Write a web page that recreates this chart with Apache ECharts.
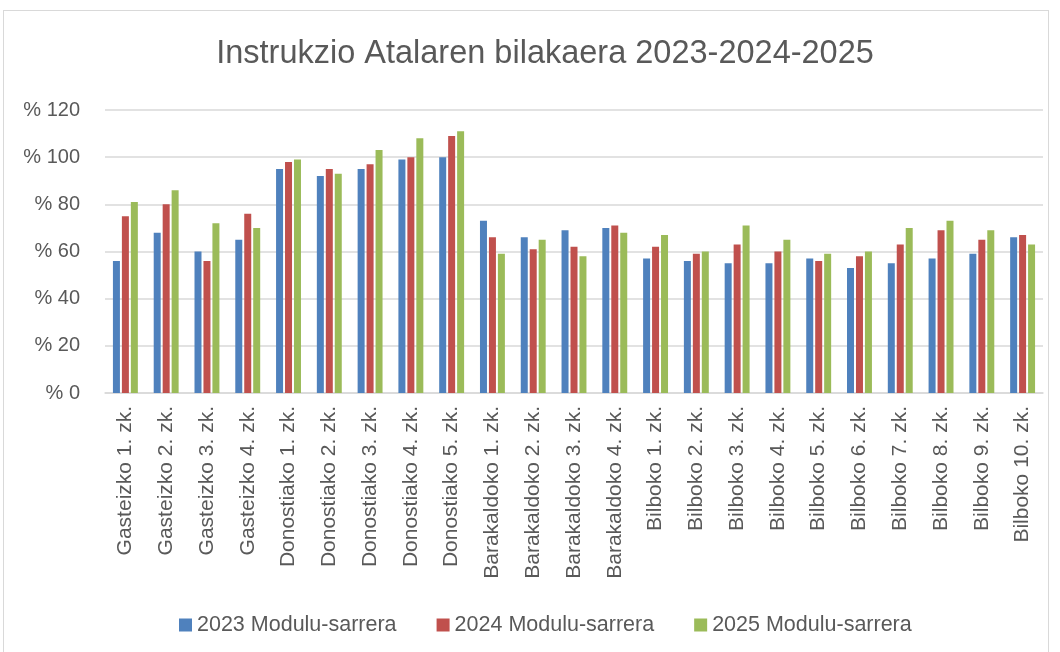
<!DOCTYPE html>
<html>
<head>
<meta charset="utf-8">
<script src="https://cdn.jsdelivr.net/npm/echarts@6/dist/echarts.min.js"></script>
<style>
    html, body { margin: 0; padding: 0; background: #fff; }
    #frame { position: absolute; left: 3px; top: 10px; width: 1046px; height: 650px; border: 1px solid #d9d9d9; box-sizing: border-box; }
    #main { position: absolute; left: 0; top: 0; width: 1060px; height: 652px; }
</style>
</head>
<body>
<div id="frame"></div>
<div id="main"></div>
<script>
// kategoriak (ikastegiak)
var categories = ['Gasteizko 1. zk.','Gasteizko 2. zk.','Gasteizko 3. zk.','Gasteizko 4. zk.',
    'Donostiako 1. zk.','Donostiako 2. zk.','Donostiako 3. zk.','Donostiako 4. zk.','Donostiako 5. zk.',
    'Barakaldoko 1. zk.','Barakaldoko 2. zk.','Barakaldoko 3. zk.','Barakaldoko 4. zk.',
    'Bilboko 1. zk.','Bilboko 2. zk.','Bilboko 3. zk.','Bilboko 4. zk.','Bilboko 5. zk.',
    'Bilboko 6. zk.','Bilboko 7. zk.','Bilboko 8. zk.','Bilboko 9. zk.','Bilboko 10. zk.'];
var seriesNames = ['2023 Modulu-sarrera','2024 Modulu-sarrera','2025 Modulu-sarrera'];
var values2023 = [56,68,60,65, 95,92,95,99,100, 73,66,69,70, 57,56,55,55,57,53,55,57,59,66];
var values2024 = [75,80,56,76, 98,95,97,100,109, 66,61,62,71, 62,59,63,60,56,58,63,69,65,67];
var values2025 = [81,86,72,70, 99,93,103,108,111, 59,65,58,68, 67,60,71,65,59,60,70,73,69,63];
var yTicks = [0,20,40,60,80,100,120];

var font = '"Liberation Sans", Arial, sans-serif';
var colors = ['#4F81BD','#C0504D','#9BBB59'];

var mchart = echarts.init(document.getElementById('main'));
var option = {
    animation: false,
    color: colors,
    title: {
        text: 'Instrukzio Atalaren bilakaera 2023-2024-2025',
        left: 540,
        textAlign: 'center',
        top: 33,
        textStyle: { fontFamily: font, fontSize: 32.5, fontWeight: 'normal', color: '#595959' }
    },
    legend: {
        top: 609,
        left: 174,
        itemWidth: 13,
        itemHeight: 13,
        itemGap: 40,
        icon: 'rect',
        textStyle: { fontFamily: font, fontSize: 21.5, color: '#595959' },
        data: seriesNames
    },
    grid: { left: 105, right: 17, top: 110, bottom: 259 },
    xAxis: {
        type: 'category',
        data: categories,
        axisLine: { lineStyle: { color: '#d9d9d9', width: 1.5 } },
        axisTick: { show: false },
        axisLabel: { rotate: 90, interval: 0, margin: 13, fontFamily: font, fontSize: 21, color: '#595959' }
    },
    yAxis: {
        type: 'value',
        min: yTicks[0],
        max: yTicks[yTicks.length - 1],
        interval: 20,
        axisLine: { show: false },
        axisTick: { show: false },
        splitLine: { lineStyle: { color: '#d9d9d9', width: 1.5 } },
        axisLabel: {
            margin: 25,
            fontFamily: font, fontSize: 20, color: '#595959',
            formatter: function (v) { return '% ' + v; }
        }
    },
    series: [
        { name: seriesNames[0], type: 'bar', data: values2023, barWidth: 7, barGap: '28%' },
        { name: seriesNames[1], type: 'bar', data: values2024, barWidth: 7, barGap: '28%' },
        { name: seriesNames[2], type: 'bar', data: values2025, barWidth: 7, barGap: '28%' }
    ]
};
mchart.setOption(option);
</script>
</body>
</html>
